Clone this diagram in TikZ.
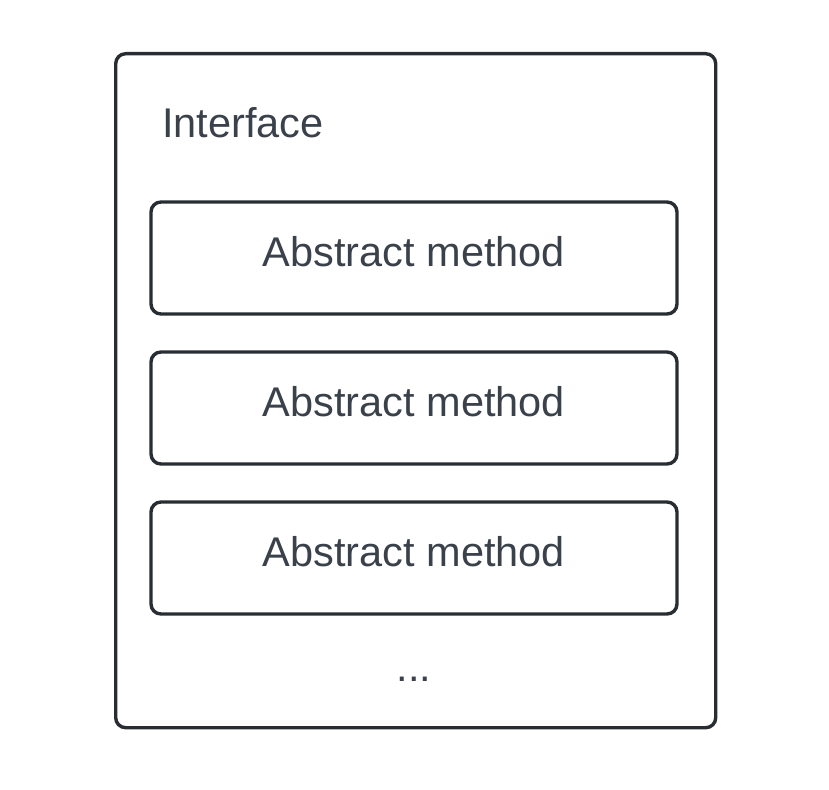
\documentclass[tikz,border=0pt]{standalone}
\usepackage{fontspec}
\setmainfont{Liberation Sans}
\definecolor{linec}{HTML}{282C33}
\definecolor{textc}{HTML}{3A414A}
\begin{document}
\begin{tikzpicture}[x=1pt,y=-1pt,
  outerbox/.style={draw=linec,line width=3.4pt,rounded corners=10pt},
  methodbox/.style={draw=linec,line width=3.4pt,rounded corners=10pt,minimum width=526pt,minimum height=112pt,inner sep=0pt},
  lbl/.style={font=\fontsize{41.5}{48}\selectfont,text=textc,inner sep=0pt}]
\useasboundingbox (0,0) rectangle (829,789);
\node[outerbox,minimum width=600pt,minimum height=674pt,anchor=north west,inner sep=0pt] (iface) at (114,52) {};
\node[lbl,anchor=base west] (title) at (162,137) {Interface};
\foreach \i/\y in {1/258,2/408,3/558}{
  \node[methodbox] (m\i) at (414,\y) {};
  \node[lbl,anchor=base] (t\i) at ([yshift=-8pt]m\i.center) {Abstract method};
}
\node[lbl,anchor=base] (dots) at (414,681) {...};
\end{tikzpicture}
\end{document}
